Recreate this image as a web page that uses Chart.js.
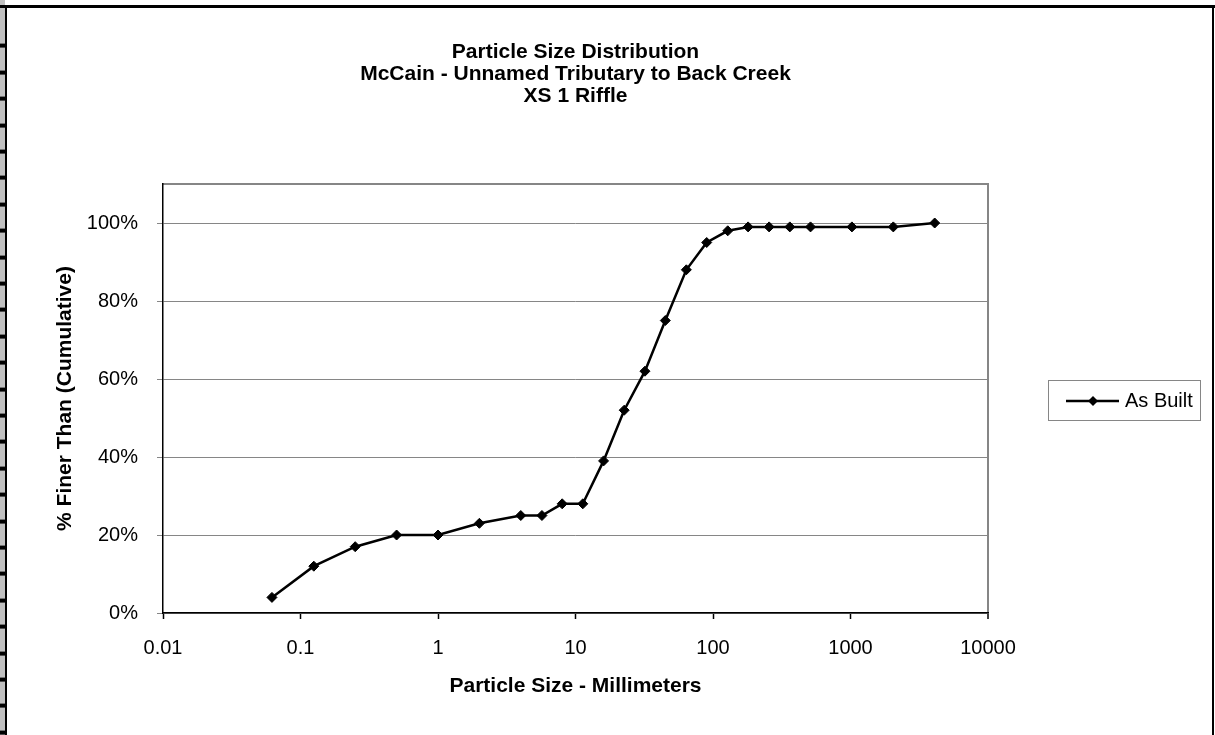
<!DOCTYPE html>
<html>
<head>
<meta charset="utf-8">
<title>Particle Size Distribution</title>
<script src="https://cdn.jsdelivr.net/npm/chart.js@4.4.1/dist/chart.umd.min.js"></script>
<style>
  html, body { margin: 0; padding: 0; background: #fff; }
  #wrap { position: relative; width: 1215px; height: 735px; overflow: hidden; background: #fff; }
  #chart { position: absolute; left: 0; top: 0; }
  /* worksheet frame around the chart object */
  .strip { position: absolute; left: 0; top: 0; width: 5px; height: 735px;
    background: repeating-linear-gradient(to bottom, #c0c0c0 0, #c0c0c0 22.4px, #000 22.4px, #000 26.4px);
    background-position: 0 21.6px; }
  .edge { position: absolute; background: #000; pointer-events: none; }
</style>
</head>
<body>
<div id="wrap">
  <canvas id="chart" width="1215" height="735"></canvas>
  <div class="strip"></div>
  <div class="edge" style="left:0;top:5px;width:1215px;height:3px"></div>
  <div class="edge" style="left:5px;top:5px;width:2px;height:730px"></div>
  <div class="edge" style="left:1212px;top:5px;width:2px;height:730px"></div>
</div>
<script>
// ---- data ----
const SIZES_MM = [0.062, 0.125, 0.25, 0.5, 1, 2, 4, 5.7, 8, 11.3, 16, 22.6, 32, 45, 64, 90, 128, 180, 256, 362, 512, 1024, 2048, 4096];
const PCT_FINER = [4, 12, 17, 20, 20, 23, 25, 25, 28, 28, 39, 52, 62, 75, 88, 95, 98, 99, 99, 99, 99, 99, 99, 100];
const SERIES_LABEL = 'As Built';

const X_TICKS = [0.01, 0.1, 1, 10, 100, 1000, 10000];
const X_TICK_LABELS = ['0.01', '0.1', '1', '10', '100', '1000', '10000'];
const Y_TICKS = [0, 20, 40, 60, 80, 100];

const TITLE_LINES = ['Particle Size Distribution', 'McCain - Unnamed Tributary to Back Creek', 'XS 1 Riffle'];
const X_TITLE = 'Particle Size - Millimeters';
const Y_TITLE = '% Finer Than (Cumulative)';

const FONT = '"Liberation Sans", Arial, sans-serif';
const GRID = '#868686';

Chart.defaults.font.family = FONT;
Chart.defaults.color = '#000';

// Excel-style boxed legend on the right
const boxLegend = {
  id: 'boxLegend',
  afterDraw(chart) {
    const ctx = chart.ctx;
    const ds = chart.data.datasets[0];
    const bx = 1048, by = 380, bw = 152, bh = 40;
    const cy = by + bh / 2 + 1;
    ctx.save();
    ctx.strokeStyle = GRID;
    ctx.lineWidth = 1;
    ctx.strokeRect(bx + 0.5, by + 0.5, bw, bh);
    // sample line
    ctx.strokeStyle = ds.borderColor;
    ctx.lineWidth = ds.borderWidth;
    ctx.beginPath();
    ctx.moveTo(bx + 18, cy);
    ctx.lineTo(bx + 71, cy);
    ctx.stroke();
    // diamond marker
    const mx = bx + 45, r = ds.pointRadius;
    ctx.fillStyle = ds.pointBackgroundColor;
    ctx.beginPath();
    ctx.moveTo(mx, cy - r);
    ctx.lineTo(mx + r, cy);
    ctx.lineTo(mx, cy + r);
    ctx.lineTo(mx - r, cy);
    ctx.closePath();
    ctx.fill();
    // label
    ctx.fillStyle = '#000';
    ctx.font = '20px ' + FONT;
    ctx.textBaseline = 'middle';
    ctx.textAlign = 'left';
    ctx.fillText(ds.label, bx + 77, cy);
    ctx.restore();
  }
};

new Chart(document.getElementById('chart'), {
  type: 'line',
  data: {
    datasets: [{
      label: SERIES_LABEL,
      data: SIZES_MM.map((x, i) => ({ x: x, y: PCT_FINER[i] })),
      borderColor: '#000',
      borderWidth: 2.5,
      pointStyle: 'rectRot',
      pointRadius: 5,
      pointBackgroundColor: '#000',
      pointBorderColor: '#000',
      pointBorderWidth: 1,
      tension: 0,
      fill: false
    }]
  },
  options: {
    responsive: false,
    animation: false,
    layout: { padding: { left: 0, top: 0, right: 227, bottom: 0 } },
    plugins: {
      legend: { display: false },
      title: { display: false },
      tooltip: { enabled: false }
    },
    scales: {
      x: {
        type: 'logarithmic',
        position: 'bottom',
        min: 0.01,
        max: 10000,
        afterBuildTicks: s => { s.ticks = X_TICKS.map(v => ({ value: v })); },
        afterFit: s => { s.height = 122; },
        ticks: {
          autoSkip: false,
          maxRotation: 0,
          padding: 17,
          font: { size: 20 },
          color: '#000',
          callback: (v, i) => X_TICK_LABELS[i]
        },
        grid: {
          drawOnChartArea: true,
          color: c => (c.tick && c.tick.value === 10000) ? GRID : 'rgba(0,0,0,0)',
          lineWidth: c => (c.tick && c.tick.value === 10000) ? 2 : 1,
          tickColor: '#000',
          tickWidth: 1.5,
          tickLength: 6
        },
        border: { color: '#000', width: 1.5 },
        title: {
          display: true,
          text: X_TITLE,
          font: { size: 21, weight: 'bold' },
          padding: { top: 0, bottom: 36 }
        }
      },
      x2: {
        type: 'linear',
        position: 'top',
        min: 0,
        max: 1,
        afterFit: s => { s.height = 184; },
        ticks: { display: false },
        grid: { drawOnChartArea: false, drawTicks: false },
        border: { color: GRID, width: 2 },
        title: {
          display: true,
          text: TITLE_LINES,
          font: { size: 21, weight: 'bold', lineHeight: '22px' },
          padding: { top: 41, bottom: 0 }
        }
      },
      y: {
        type: 'linear',
        position: 'left',
        min: 0,
        max: 110,
        afterBuildTicks: s => { s.ticks = Y_TICKS.map(v => ({ value: v })); },
        afterFit: s => { s.width = 163; },
        ticks: {
          padding: 19,
          font: { size: 20 },
          color: '#000',
          callback: v => v + '%'
        },
        grid: { color: GRID, lineWidth: 1, tickLength: 6 },
        border: { color: '#000', width: 1.5 },
        title: {
          display: true,
          text: Y_TITLE,
          font: { size: 21, weight: 'bold' },
          padding: { top: 53, bottom: 0 }
        }
      }
    }
  },
  plugins: [boxLegend]
});
</script>
</body>
</html>
